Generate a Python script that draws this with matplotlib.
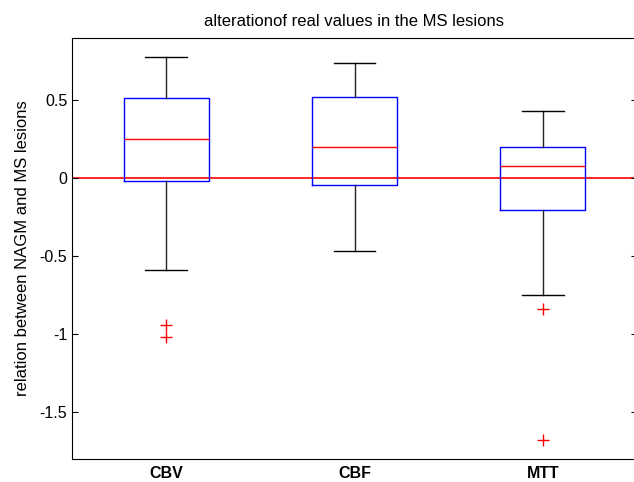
import matplotlib
matplotlib.use("Agg")
import matplotlib.pyplot as plt

plt.rcParams['font.family'] = ['Liberation Sans', 'DejaVu Sans']

labels = ['CBV', 'CBF', 'MTT']
medians = [0.25, 0.20, 0.077]
q1 = [-0.015, -0.04, -0.20]
q3 = [0.513, 0.52, 0.20]
whisk_lo = [-0.59, -0.465, -0.746]
whisk_hi = [0.78, 0.74, 0.434]
outliers = [[-0.94, -1.017], [], [-0.84, -1.68]]

stats = []
for i in range(len(labels)):
    stats.append(dict(label=labels[i], med=medians[i], q1=q1[i], q3=q3[i],
                      whislo=whisk_lo[i], whishi=whisk_hi[i], fliers=outliers[i]))

fig = plt.figure(figsize=(6.34, 4.82), dpi=100)
ax = fig.add_axes([72/634, 23/482, 565/634, 421/482])

ax.axhline(0, color='red', lw=1.2, zorder=1)
ax.bxp(stats, positions=[1, 2, 3], widths=0.45, showfliers=True,
       boxprops=dict(color='blue', lw=1),
       medianprops=dict(color='red', lw=1),
       whiskerprops=dict(color='#222222', lw=1),
       capprops=dict(color='black', lw=1),
       capwidths=0.22,
       flierprops=dict(marker='+', markeredgecolor='red', markersize=8, linestyle='none'))

ax.set_xlim(0.5, 3.5)
ax.set_ylim(-1.8, 0.9)
ax.set_yticks([-1.5, -1, -0.5, 0, 0.5])
ax.set_yticklabels(['-1.5', '-1', '-0.5', '0', '0.5'])
ax.tick_params(axis='y', direction='in', length=4, right=True, labelsize=11.5)
ax.tick_params(axis='x', length=0, labelsize=11.5, pad=5)
for t in ax.get_xticklabels():
    t.set_fontweight('bold')
ax.set_ylabel('relation between NAGM and MS lesions', fontsize=12, labelpad=7)
ax.set_title('alterationof real values in the MS lesions', fontsize=12, pad=9)

fig.savefig('out.png', dpi=100)
